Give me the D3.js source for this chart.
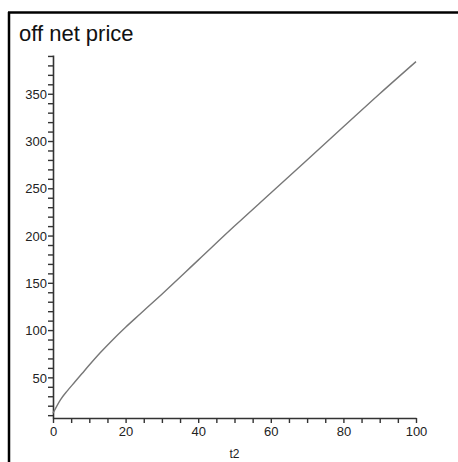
<!DOCTYPE html>
<html>
<head>
<meta charset="utf-8">
<script src="https://cdn.jsdelivr.net/npm/d3@7/dist/d3.min.js"></script>
<style>
  html, body { margin: 0; padding: 0; background: #fff; }
  svg { display: block; }
  text { font-family: "Liberation Sans", Arial, sans-serif; }
</style>
</head>
<body>
<svg id="chart" width="458" height="462"></svg>
<script>
// Off-net price as a function of t2
const t2Values = [0, 2, 4, 6, 8, 10, 13, 16, 20, 24, 30, 40, 50, 60, 70, 80, 90, 100];
const priceValues = [12, 26, 36, 45, 54, 63, 76, 88, 103, 117, 138, 174, 210, 245, 280, 315, 350, 384];
const xTickLabels = [0, 20, 40, 60, 80, 100];
const yTickLabels = [50, 100, 150, 200, 250, 300, 350];
const chartTitle = "off net price";
const xAxisTitle = "t2";

const svg = d3.select("#chart");

// frame lines (top and left)
svg.append("line").attr("x1", 8).attr("x2", 458).attr("y1", 12.5).attr("y2", 12.5)
  .attr("stroke", "#000").attr("stroke-width", 2.5);
svg.append("line").attr("x1", 9).attr("x2", 9).attr("y1", 12).attr("y2", 462)
  .attr("stroke", "#000").attr("stroke-width", 2.5);

const x = d3.scaleLinear().domain([0, 100]).range([53, 416]);
const y = d3.scaleLinear().domain([7, 391]).range([418, 55]);

const axisColor = "#333";

// y axis: minor ticks every 10, labels every 50
const yAxis = d3.axisLeft(y)
  .tickValues(d3.range(10, 391, 10))
  .tickSize(5)
  .tickSizeOuter(0)
  .tickFormat(d => yTickLabels.includes(d) ? d : "");
const gy = svg.append("g").attr("transform", `translate(${x(0)},0)`).call(yAxis);

// x axis: minor ticks every 5, labels every 20
const xAxis = d3.axisBottom(x)
  .tickValues(d3.range(0, 101, 5))
  .tickSize(5)
  .tickSizeOuter(0)
  .tickFormat(d => xTickLabels.includes(d) ? d : "");
const gx = svg.append("g").attr("transform", `translate(0,${y(7)})`).call(xAxis);

[gx, gy].forEach(g => {
  g.select(".domain").attr("stroke", axisColor).attr("stroke-width", 1.6);
  g.selectAll(".tick line").attr("stroke", axisColor).attr("stroke-width", 1.4);
  g.selectAll(".tick text").attr("fill", "#222").style("font-size", "13px")
    .style("font-family", "Liberation Sans, Arial, sans-serif");
});
gy.selectAll(".tick text").attr("x", -6).attr("dy", "0.36em");
gx.selectAll(".tick text").attr("y", 9);

// curve
const line = d3.line().x((d, i) => x(t2Values[i])).y(d => y(d)).curve(d3.curveMonotoneX);
svg.append("path").datum(priceValues)
  .attr("d", line)
  .attr("fill", "none")
  .attr("stroke", "#777")
  .attr("stroke-width", 1.4);

// titles
svg.append("text").attr("x", 19).attr("y", 40.5)
  .style("font-size", "22px").attr("fill", "#111")
  .text(chartTitle);
svg.append("text").attr("x", (x(0) + x(100)) / 2).attr("y", 457.5)
  .attr("text-anchor", "middle")
  .style("font-size", "12px").attr("fill", "#222")
  .text(xAxisTitle);
</script>
</body>
</html>
